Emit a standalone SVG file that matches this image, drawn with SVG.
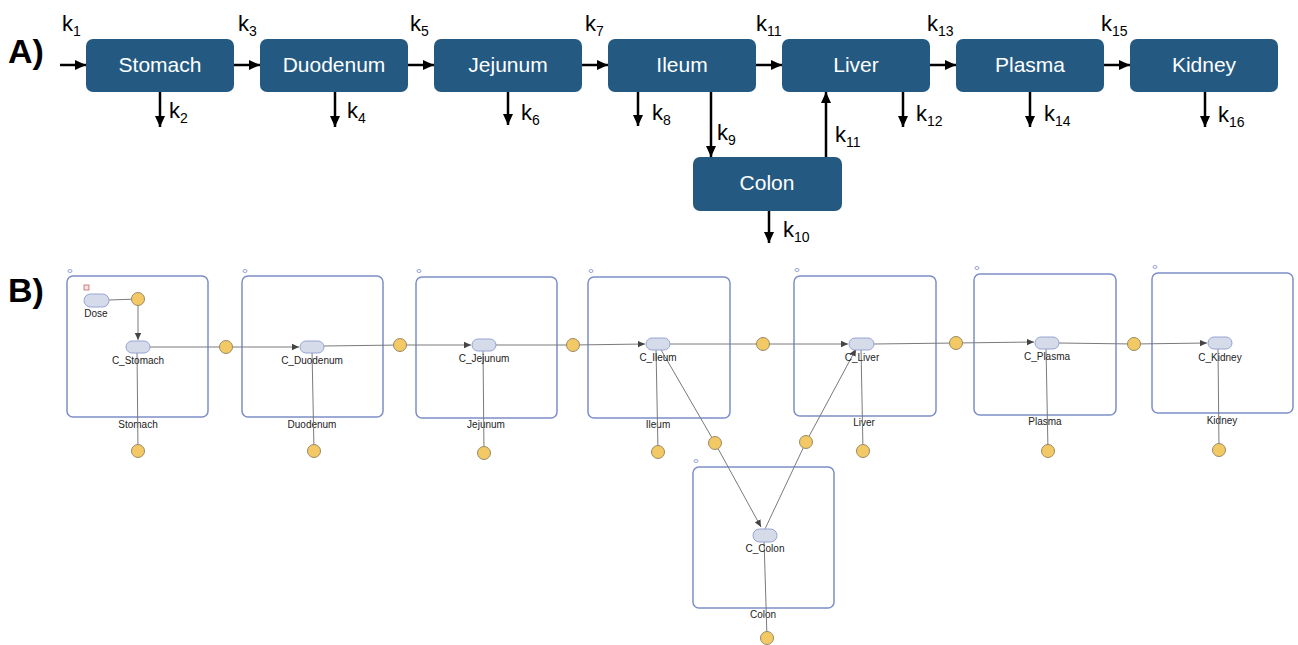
<svg xmlns="http://www.w3.org/2000/svg" width="1298" height="645" viewBox="0 0 1298 645">
<style>
.box{fill:#245a82;}
.bt{fill:#ffffff;font-family:"Liberation Sans",Arial,sans-serif;font-size:21px;text-anchor:middle;}
.k{fill:#000;font-family:"Liberation Sans",Arial,sans-serif;font-size:22px;}
.sub{font-size:14px;}
.lab{fill:#000;font-family:"Liberation Sans",Arial,sans-serif;font-size:34px;font-weight:bold;}
.ar{stroke:#000;stroke-width:2.5;fill:none;}
.comp{fill:none;stroke:#7d8ec9;stroke-width:1.5;}
.sp{fill:#d6dbea;stroke:#96a4d3;stroke-width:1;}
.rx{fill:#f3c965;stroke:#9a8a64;stroke-width:1;}
.ln{stroke:#7a7a7a;stroke-width:1;fill:none;}
.st{fill:#222;font-family:"Liberation Sans",Arial,sans-serif;font-size:10px;text-anchor:middle;}
.ic{fill:none;stroke:#7d8ec9;stroke-width:0.8;}
</style>
<defs>
<marker id="ah" markerUnits="userSpaceOnUse" markerWidth="12" markerHeight="12" viewBox="0 0 12 12" refX="11" refY="6" orient="auto">
<path d="M0,1 L11,6 L0,11 Z" fill="#000"/>
</marker>
<marker id="sa" markerUnits="userSpaceOnUse" markerWidth="8" markerHeight="8" viewBox="0 0 8 8" refX="7" refY="4" orient="auto">
<path d="M0,0.8 L7,4 L0,7.2 Z" fill="#444"/>
</marker>
</defs>
<rect width="1298" height="645" fill="#ffffff"/>
<text class="lab" x="8" y="63">A)</text>
<text class="lab" x="8" y="302">B)</text>

<g id="connectors-A">
<line class="ar" x1="60" y1="65" x2="86" y2="65" marker-end="url(#ah)"/>
<line class="ar" x1="234" y1="65" x2="260" y2="65" marker-end="url(#ah)"/>
<line class="ar" x1="408" y1="65" x2="434" y2="65" marker-end="url(#ah)"/>
<line class="ar" x1="582" y1="65" x2="608" y2="65" marker-end="url(#ah)"/>
<line class="ar" x1="756" y1="65" x2="782" y2="65" marker-end="url(#ah)"/>
<line class="ar" x1="930" y1="65" x2="956" y2="65" marker-end="url(#ah)"/>
<line class="ar" x1="1104" y1="65" x2="1130" y2="65" marker-end="url(#ah)"/>
<line class="ar" x1="160" y1="92" x2="160" y2="127" marker-end="url(#ah)"/>
<line class="ar" x1="335" y1="92" x2="335" y2="127" marker-end="url(#ah)"/>
<line class="ar" x1="508" y1="92" x2="508" y2="125" marker-end="url(#ah)"/>
<line class="ar" x1="638" y1="92" x2="638" y2="126" marker-end="url(#ah)"/>
<line class="ar" x1="711" y1="92" x2="711" y2="157" marker-end="url(#ah)"/>
<line class="ar" x1="826" y1="157" x2="826" y2="92" marker-end="url(#ah)"/>
<line class="ar" x1="903" y1="92" x2="903" y2="127" marker-end="url(#ah)"/>
<line class="ar" x1="1030" y1="92" x2="1030" y2="127" marker-end="url(#ah)"/>
<line class="ar" x1="1205" y1="92" x2="1205" y2="127" marker-end="url(#ah)"/>
<line class="ar" x1="769" y1="211" x2="769" y2="243" marker-end="url(#ah)"/>
</g>
<g id="rates-A">
<text class="k" x="62" y="31">k<tspan class="sub" dy="5">1</tspan></text>
<text class="k" x="238" y="31">k<tspan class="sub" dy="5">3</tspan></text>
<text class="k" x="410" y="31">k<tspan class="sub" dy="5">5</tspan></text>
<text class="k" x="585" y="31">k<tspan class="sub" dy="5">7</tspan></text>
<text class="k" x="756" y="31">k<tspan class="sub" dy="5">11</tspan></text>
<text class="k" x="927" y="31">k<tspan class="sub" dy="5">13</tspan></text>
<text class="k" x="1101" y="31">k<tspan class="sub" dy="5">15</tspan></text>
<text class="k" x="169" y="118">k<tspan class="sub" dy="5">2</tspan></text>
<text class="k" x="347" y="118">k<tspan class="sub" dy="5">4</tspan></text>
<text class="k" x="521" y="120">k<tspan class="sub" dy="5">6</tspan></text>
<text class="k" x="652" y="120">k<tspan class="sub" dy="5">8</tspan></text>
<text class="k" x="717" y="140">k<tspan class="sub" dy="5">9</tspan></text>
<text class="k" x="835" y="142">k<tspan class="sub" dy="5">11</tspan></text>
<text class="k" x="916" y="121">k<tspan class="sub" dy="5">12</tspan></text>
<text class="k" x="1044" y="121">k<tspan class="sub" dy="5">14</tspan></text>
<text class="k" x="1218" y="122">k<tspan class="sub" dy="5">16</tspan></text>
<text class="k" x="783" y="237">k<tspan class="sub" dy="5">10</tspan></text>
</g>
<g id="a-stomach"><rect class="box" x="86" y="39" width="148" height="53" rx="7"/><text class="bt" x="160" y="72">Stomach</text></g>
<g id="a-duodenum"><rect class="box" x="260" y="39" width="148" height="53" rx="7"/><text class="bt" x="334" y="72">Duodenum</text></g>
<g id="a-jejunum"><rect class="box" x="434" y="39" width="148" height="53" rx="7"/><text class="bt" x="508" y="72">Jejunum</text></g>
<g id="a-ileum"><rect class="box" x="608" y="39" width="148" height="53" rx="7"/><text class="bt" x="682" y="72">Ileum</text></g>
<g id="a-liver"><rect class="box" x="782" y="39" width="148" height="53" rx="7"/><text class="bt" x="856" y="72">Liver</text></g>
<g id="a-plasma"><rect class="box" x="956" y="39" width="148" height="53" rx="7"/><text class="bt" x="1030" y="72">Plasma</text></g>
<g id="a-kidney"><rect class="box" x="1130" y="39" width="148" height="53" rx="7"/><text class="bt" x="1204" y="72">Kidney</text></g>
<g id="a-colon"><rect class="box" x="693" y="157" width="149" height="54" rx="7"/><text class="bt" x="767" y="190">Colon</text></g>

<g id="b-compartments">
<g id="b-stomach"><rect class="comp" x="67" y="276" width="141" height="141" rx="6"/><ellipse class="ic" cx="70" cy="271" rx="2" ry="1.5"/><text class="st" x="138" y="428">Stomach</text></g>
<g id="b-duodenum"><rect class="comp" x="242" y="276" width="141" height="141" rx="6"/><ellipse class="ic" cx="245" cy="271" rx="2" ry="1.5"/><text class="st" x="312" y="428">Duodenum</text></g>
<g id="b-jejunum"><rect class="comp" x="416" y="277" width="141" height="141" rx="6"/><ellipse class="ic" cx="419" cy="271" rx="2" ry="1.5"/><text class="st" x="486" y="428">Jejunum</text></g>
<g id="b-ileum"><rect class="comp" x="588" y="277" width="142" height="141" rx="6"/><ellipse class="ic" cx="591" cy="271" rx="2" ry="1.5"/><text class="st" x="658" y="428">Ileum</text></g>
<g id="b-liver"><rect class="comp" x="794" y="276" width="142" height="140" rx="6"/><ellipse class="ic" cx="797" cy="270" rx="2" ry="1.5"/><text class="st" x="864" y="426">Liver</text></g>
<g id="b-plasma"><rect class="comp" x="974" y="274" width="142" height="141" rx="6"/><ellipse class="ic" cx="977" cy="268" rx="2" ry="1.5"/><text class="st" x="1045" y="425">Plasma</text></g>
<g id="b-kidney"><rect class="comp" x="1152" y="273" width="141" height="140" rx="6"/><ellipse class="ic" cx="1155" cy="267" rx="2" ry="1.5"/><text class="st" x="1222" y="424">Kidney</text></g>
<g id="b-colon"><rect class="comp" x="693" y="467" width="141" height="141" rx="6"/><ellipse class="ic" cx="696" cy="461" rx="2" ry="1.5"/><text class="st" x="763" y="618">Colon</text></g>
</g>

<g id="connectors-B">
<line class="ln" x1="109" y1="300" x2="138" y2="299"/>
<line class="ln" x1="138" y1="299" x2="138" y2="340" marker-end="url(#sa)"/>
<line class="ln" x1="150" y1="347" x2="226" y2="347"/>
<line class="ln" x1="226" y1="347" x2="299" y2="347" marker-end="url(#sa)"/>
<line class="ln" x1="324" y1="346" x2="400" y2="345"/>
<line class="ln" x1="400" y1="345" x2="471" y2="345" marker-end="url(#sa)"/>
<line class="ln" x1="496" y1="345" x2="573" y2="345"/>
<line class="ln" x1="573" y1="345" x2="645" y2="344" marker-end="url(#sa)"/>
<line class="ln" x1="670" y1="344" x2="763" y2="344"/>
<line class="ln" x1="763" y1="344" x2="848" y2="344" marker-end="url(#sa)"/>
<line class="ln" x1="874" y1="344" x2="956" y2="343"/>
<line class="ln" x1="956" y1="343" x2="1034" y2="342" marker-end="url(#sa)"/>
<line class="ln" x1="1059" y1="343" x2="1134" y2="344"/>
<line class="ln" x1="1134" y1="344" x2="1207" y2="343" marker-end="url(#sa)"/>
<line class="ln" x1="137" y1="350" x2="138" y2="451"/>
<line class="ln" x1="312" y1="350" x2="314" y2="451"/>
<line class="ln" x1="483" y1="349" x2="484" y2="453"/>
<line class="ln" x1="656" y1="348" x2="658" y2="452"/>
<line class="ln" x1="861" y1="348" x2="863" y2="451"/>
<line class="ln" x1="1046" y1="347" x2="1048" y2="451"/>
<line class="ln" x1="1218" y1="347" x2="1219" y2="450"/>
<line class="ln" x1="764" y1="539" x2="767" y2="638"/>
<line class="ln" x1="660" y1="348" x2="715" y2="443"/>
<line class="ln" x1="715" y1="443" x2="761" y2="527" marker-end="url(#sa)"/>
<line class="ln" x1="765" y1="529" x2="806" y2="442"/>
<line class="ln" x1="806" y1="442" x2="856" y2="349" marker-end="url(#sa)"/>
</g>

<g id="b-species">
<g id="sp-dose"><rect x="84" y="285" width="5" height="5" fill="#f4e4e4" stroke="#c05050" stroke-width="0.7"/><rect class="sp" x="84" y="294" width="25" height="13" rx="6.5"/><text class="st" x="96" y="317">Dose</text></g>
<g id="sp-stomach"><rect class="sp" x="126" y="341" width="24" height="12" rx="6"/><text class="st" x="138" y="364">C_Stomach</text></g>
<g id="sp-duodenum"><rect class="sp" x="300" y="341" width="24" height="12" rx="6"/><text class="st" x="312" y="364">C_Duodenum</text></g>
<g id="sp-jejunum"><rect class="sp" x="472" y="339" width="24" height="12" rx="6"/><text class="st" x="484" y="362">C_Jejunum</text></g>
<g id="sp-ileum"><rect class="sp" x="646" y="338" width="24" height="12" rx="6"/><text class="st" x="658" y="361">C_Ileum</text></g>
<g id="sp-liver"><rect class="sp" x="849" y="338" width="25" height="12" rx="6"/><text class="st" x="862" y="361">C_Liver</text></g>
<g id="sp-plasma"><rect class="sp" x="1035" y="337" width="24" height="12" rx="6"/><text class="st" x="1047" y="360">C_Plasma</text></g>
<g id="sp-kidney"><rect class="sp" x="1208" y="337" width="24" height="12" rx="6"/><text class="st" x="1220" y="361">C_Kidney</text></g>
<g id="sp-colon"><rect class="sp" x="753" y="529" width="24" height="13" rx="6.5"/><text class="st" x="765" y="552">C_Colon</text></g>
</g>

<g id="b-reactions">
<circle class="rx" cx="138" cy="299" r="6.5"/>
<circle class="rx" cx="226" cy="347" r="6.5"/>
<circle class="rx" cx="400" cy="345" r="6.5"/>
<circle class="rx" cx="573" cy="345" r="6.5"/>
<circle class="rx" cx="763" cy="344" r="6.5"/>
<circle class="rx" cx="956" cy="343" r="6.5"/>
<circle class="rx" cx="1134" cy="344" r="6.5"/>
<circle class="rx" cx="715" cy="443" r="6.5"/>
<circle class="rx" cx="806" cy="442" r="6.5"/>
<circle class="rx" cx="138" cy="451" r="6.5"/>
<circle class="rx" cx="314" cy="451" r="6.5"/>
<circle class="rx" cx="484" cy="453" r="6.5"/>
<circle class="rx" cx="658" cy="452" r="6.5"/>
<circle class="rx" cx="863" cy="451" r="6.5"/>
<circle class="rx" cx="1048" cy="451" r="6.5"/>
<circle class="rx" cx="1219" cy="450" r="6.5"/>
<circle class="rx" cx="767" cy="638" r="6.5"/>
</g>
</svg>
